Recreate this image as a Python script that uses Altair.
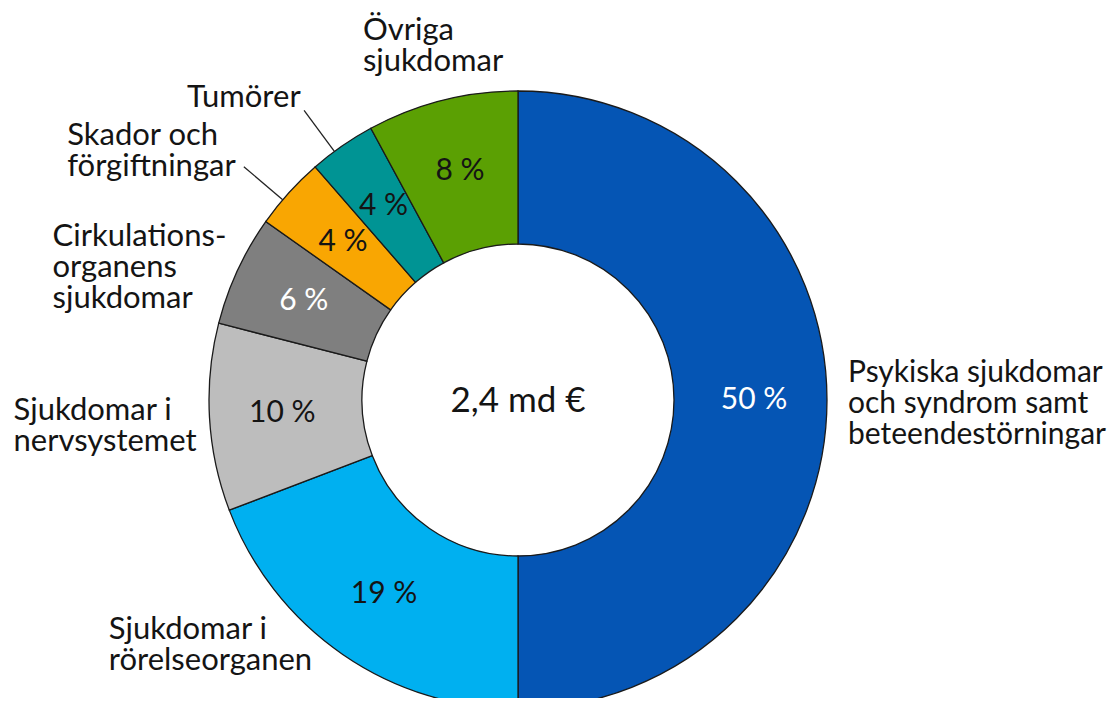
import altair as alt
import pandas as pd

# ---- data ----
categories = [
    "Psykiska sjukdomar\noch syndrom samt\nbeteendestörningar",
    "Sjukdomar i\nrörelseorganen",
    "Sjukdomar i\nnervsystemet",
    "Cirkulations-\norganens\nsjukdomar",
    "Skador och\nförgiftningar",
    "Tumörer",
    "Övriga\nsjukdomar",
]
shares = [50.0, 19.2, 9.8, 5.8, 3.8, 3.5, 7.9]
pct_labels = ["50 %", "19 %", "10 %", "6 %", "4 %", "4 %", "8 %"]
total_label = "2,4 md €"

# ---- styles / layout ----
colors = ["#0555B4", "#00B0F0", "#BDBDBD", "#7F7F7F", "#F9A602", "#009494", "#5BA003"]
FONT = "Lato"
TXT = "#141414"
CX, CY = 510, 392          # donut centre (chart coords)
R_OUT, R_IN = 309, 156
R_PCT = 236
R_LAB = 330
# per-label offsets (dx, dy, fontSize) from the polar anchor at R_LAB
label_style = [(0, -18, 30), (-222, -33, 31), (-175, 1, 31), (-166, -15, 31),
               (-206, -34, 31), (-143, -22, 31), (-74, -40, 31)]
leader_idx = [4, 5]

df = pd.DataFrame({
    "order": list(range(len(categories))),
    "category": categories,
    "share": shares,
    "pct": pct_labels,
})

base = alt.Chart(df)

arcs = base.mark_arc(outerRadius=R_OUT, innerRadius=R_IN, stroke="#1a1a1a", strokeWidth=1.3).encode(
    theta=alt.Theta("share:Q", stack=True),
    order=alt.Order("order:Q"),
    color=alt.Color("category:N", scale=alt.Scale(domain=categories, range=colors), legend=None),
    x=alt.value(CX),
    y=alt.value(CY),
)

pcts = base.mark_text(radius=R_PCT, font=FONT, fontSize=30).encode(
    theta=alt.Theta("share:Q", stack=True),
    order=alt.Order("order:Q"),
    text="pct:N",
    color=alt.condition("datum.order == 0 || datum.order == 3", alt.value("white"), alt.value(TXT)),
    x=alt.value(CX),
    y=alt.value(CY),
)

polar = base.transform_window(
    cum="sum(share)", sort=[alt.SortField("order")], frame=[None, 0]
).transform_joinaggregate(
    total="sum(share)"
).transform_calculate(
    mid="(datum.cum - datum.share / 2) / datum.total * 2 * PI"
).transform_calculate(
    lx=f"{CX} + {R_LAB} * sin(datum.mid)",
    ly=f"{CY} - {R_LAB} * cos(datum.mid)",
    ax=f"{CX} + {R_OUT} * sin(datum.mid - 0.03)",
    ay=f"{CY} - {R_OUT} * cos(datum.mid - 0.03)",
    bx=f"{CX} + 360 * sin(datum.mid - 0.03)",
    by=f"{CY} - 360 * cos(datum.mid - 0.03)",
)

label_layers = []
for i, (dx, dy, fs) in enumerate(label_style):
    label_layers.append(
        polar.transform_filter(f"datum.order == {i}").mark_text(
            align="left", baseline="alphabetic", dx=dx, dy=dy, lineBreak="\n",
            font=FONT, fontSize=fs, lineHeight=31, color=TXT,
        ).encode(
            x=alt.X("lx:Q", scale=None, axis=None),
            y=alt.Y("ly:Q", scale=None, axis=None),
            text="category:N",
        )
    )

leaders = polar.transform_filter(
    alt.FieldOneOfPredicate(field="order", oneOf=leader_idx)
).mark_rule(color="#222222", strokeWidth=1.3).encode(
    x=alt.X("ax:Q", scale=None, axis=None),
    y=alt.Y("ay:Q", scale=None, axis=None),
    x2="bx:Q",
    y2="by:Q",
)

center = alt.Chart(pd.DataFrame({"t": [total_label]})).mark_text(
    font=FONT, fontSize=35, color=TXT, baseline="middle", align="center"
).encode(text="t:N", x=alt.value(CX), y=alt.value(CY + 1))

chart = alt.layer(arcs, pcts, leaders, *label_layers, center).properties(
    width=1104, height=690, padding=0, autosize=alt.AutoSizeParams(type="none"),
    background="white",
).configure_view(stroke=None)

chart.save("out.html", embed_options={"renderer": "svg", "actions": False})
